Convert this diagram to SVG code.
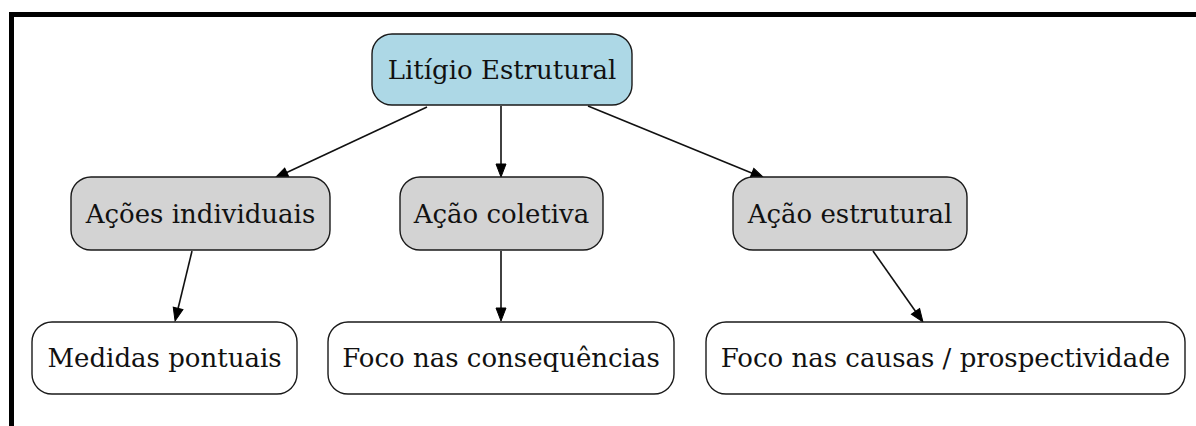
<svg xmlns="http://www.w3.org/2000/svg" width="1196" height="426" viewBox="0 0 1196 426">
  <style>
    .node rect { stroke: #1a1a1a; stroke-width: 1.4; }
    .root rect { fill: #add8e6; }
    .mid rect { fill: #d3d3d3; }
    .leaf rect { fill: #ffffff; }
    text { font-family: "DejaVu Serif", "Liberation Serif", serif; font-size: 26px; fill: #111; text-anchor: middle; dominant-baseline: central; }
    .edge { stroke: #111; stroke-width: 1.6; fill: none; marker-end: url(#arrow); }
  </style>
  <defs>
    <marker id="arrow" markerUnits="userSpaceOnUse" markerWidth="13" markerHeight="10" viewBox="0 -5 13 10" refX="3" refY="0" orient="auto" overflow="visible">
      <path d="M0,-5 L13,0 L0,5 Z" fill="#000" stroke="#000" stroke-width="1"/>
    </marker>
  </defs>
  <rect x="0" y="0" width="1196" height="426" fill="#fff"/>
  <rect x="11.5" y="14.5" width="1200" height="430" fill="none" stroke="#000" stroke-width="5"/>

  <g id="connectors">
    <line class="edge" x1="427" y1="107" x2="284.1" y2="173.8"/>
    <line class="edge" x1="501" y1="106" x2="501" y2="167"/>
    <line class="edge" x1="588" y1="106" x2="754.7" y2="174.2"/>
    <line class="edge" x1="192" y1="251" x2="177.4" y2="311.3"/>
    <line class="edge" x1="501" y1="251" x2="501" y2="311"/>
    <line class="edge" x1="873" y1="251" x2="917.2" y2="313.8"/>
  </g>

  <g id="litigio" class="node root">
    <rect x="372" y="34" width="260" height="71" rx="20" ry="20"/>
    <text x="502" y="69.5">Litígio Estrutural</text>
  </g>
  <g id="acoes-individuais" class="node mid">
    <rect x="71" y="177" width="259" height="73" rx="20" ry="20"/>
    <text x="200.5" y="213.5">Ações individuais</text>
  </g>
  <g id="acao-coletiva" class="node mid">
    <rect x="400" y="177" width="203" height="73" rx="20" ry="20"/>
    <text x="501.5" y="213.5">Ação coletiva</text>
  </g>
  <g id="acao-estrutural" class="node mid">
    <rect x="733" y="177" width="234" height="73" rx="20" ry="20"/>
    <text x="850" y="213.5">Ação estrutural</text>
  </g>
  <g id="medidas-pontuais" class="node leaf">
    <rect x="32" y="322" width="265" height="72" rx="20" ry="20"/>
    <text x="164.5" y="358">Medidas pontuais</text>
  </g>
  <g id="foco-consequencias" class="node leaf">
    <rect x="328" y="322" width="346" height="72" rx="20" ry="20"/>
    <text x="501" y="358">Foco nas consequências</text>
  </g>
  <g id="foco-causas" class="node leaf">
    <rect x="706" y="322" width="479" height="72" rx="20" ry="20"/>
    <text x="945.5" y="358">Foco nas causas / prospectividade</text>
  </g>
</svg>
